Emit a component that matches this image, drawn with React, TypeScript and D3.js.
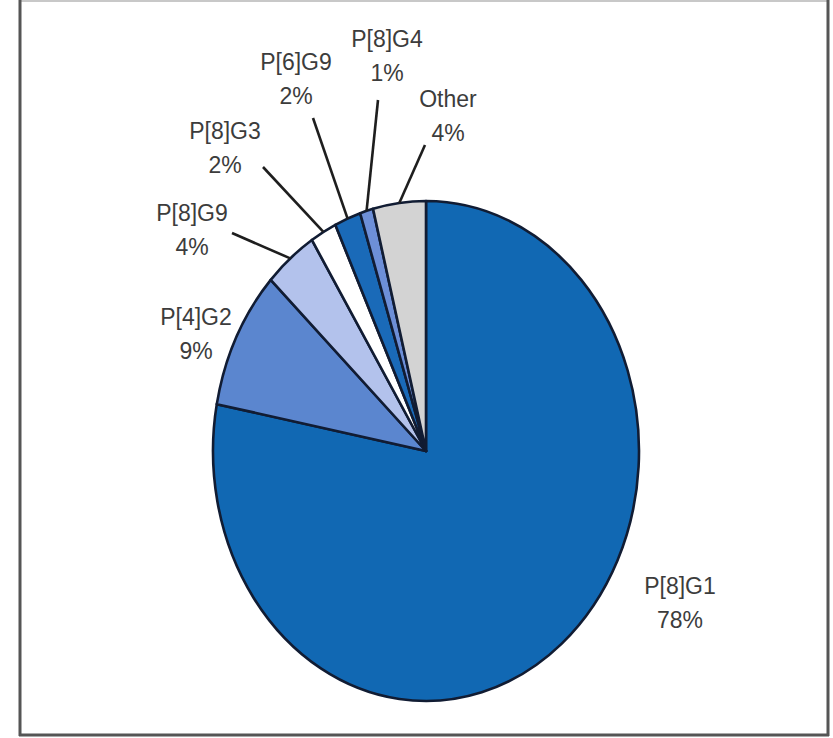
import React from "react";
import * as d3 from "d3";

const categories = ["P[8]G1", "P[4]G2", "P[8]G9", "P[8]G3", "P[6]G9", "P[8]G4", "Other"];
const values = [78, 9, 4, 2, 2, 1, 4];
const percentLabels = ["78%", "9%", "4%", "2%", "2%", "1%", "4%"];
const colors = ["#1168b3", "#5b86cf", "#b3c2ec", "#ffffff", "#1a6ab8", "#6d8fd8", "#d3d3d3"];

// label layout: [centerX, baseline of first line, leader start x, leader start y] (null = no leader)
const labelLayout: ([number, number, number | null, number | null])[] = [
  [680, 594, null, null],
  [196, 325, null, null],
  [192, 221, 232, 233],
  [225, 139, 263, 167],
  [296, 70, 313, 118],
  [387, 47, 378, 100],
  [448, 107, 425, 145],
];

const W = 833;
const H = 738;
const cx = 426;
const cy = 451;
const rx = 213;
const ry = 250;

export default function App() {
  const pie = d3.pie<number>().sort(null).startAngle(0).endAngle(2 * Math.PI);
  const arcs = pie(values);
  const arc = d3.arc<d3.PieArcDatum<number>>().innerRadius(0).outerRadius(ry);
  const sx = rx / ry;
  const edgePoint = (a: number, k = 1) => [cx + rx * k * Math.sin(a), cy - ry * k * Math.cos(a)];

  return (
    <svg width={W} height={H} style={{ position: "absolute", left: 0, top: 0, background: "#fff" }}>
      <rect x={0} y={0} width={W} height={H} fill="#fff" />
      <line x1={20} y1={1} x2={828} y2={1} stroke="#c8c8c8" strokeWidth={2} />
      <line x1={20} y1={0} x2={20} y2={736} stroke="#555" strokeWidth={3} />
      <line x1={828} y1={0} x2={828} y2={736} stroke="#555" strokeWidth={3} />
      <line x1={19} y1={735} x2={829} y2={735} stroke="#555" strokeWidth={3} />
      <g transform={`translate(${cx},${cy}) scale(${sx},1)`}>
        {arcs.map((d, i) => (
          <path
            key={i}
            d={arc(d) || ""}
            fill={colors[i]}
            stroke="#111c33"
            strokeWidth={2.6}
            strokeLinejoin="round"
            vectorEffect="non-scaling-stroke"
          />
        ))}
      </g>
      {arcs.map((d, i) => {
        const L = labelLayout[i];
        if (L[2] === null) return null;
        const mid = (d.startAngle + d.endAngle) / 2;
        const [ex, ey] = edgePoint(mid, 1.0);
        return <line key={"l" + i} x1={L[2]} y1={L[3] as number} x2={ex} y2={ey} stroke="#1e1e1e" strokeWidth={2.6} />;
      })}
      {categories.map((c, i) => {
        const L = labelLayout[i];
        return (
          <text
            key={"t" + i}
            x={L[0]}
            y={L[1]}
            textAnchor="middle"
            fontFamily="'Liberation Sans', Arial, sans-serif"
            fontSize={23}
            fill="#3c3c3c"
          >
            <tspan x={L[0]}>{c}</tspan>
            <tspan x={L[0]} dy={34}>{percentLabels[i]}</tspan>
          </text>
        );
      })}
    </svg>
  );
}
